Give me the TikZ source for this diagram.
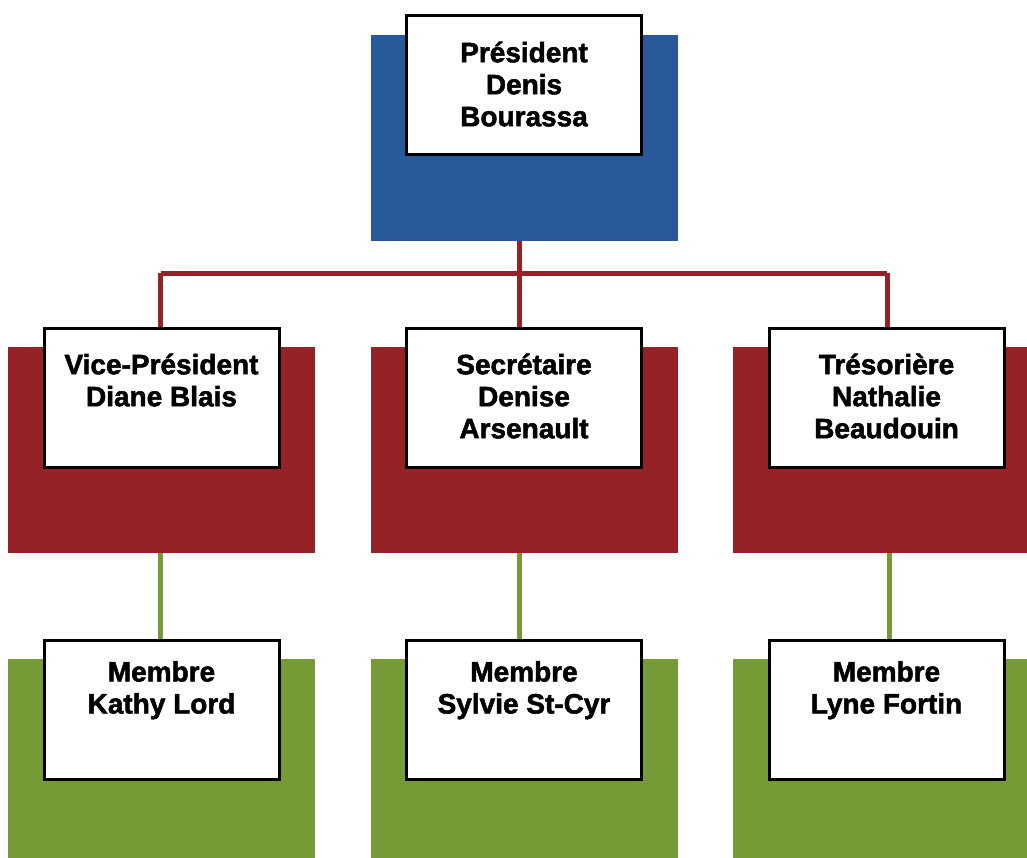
\documentclass[tikz,border=0pt]{standalone}
\usepackage{fontspec}
\newfontfamily\heavyfont{Liberation Sans}[BoldFeatures={FakeBold=1.8}]
\usepackage{tikz}
\usetikzlibrary{positioning}

\definecolor{presblue}{RGB}{41,89,155}
\definecolor{offred}{RGB}{150,33,39}
\definecolor{membgreen}{RGB}{118,154,54}

\tikzset{
	bgblock/.style={rectangle, inner sep=0pt, minimum width=307pt, minimum height=206pt},
	card/.style={rectangle, draw=black, line width=3pt, fill=white, inner sep=0pt, minimum width=235pt, minimum height=139pt},
	cardtext/.style={inner sep=0pt, align=center, font=\heavyfont\bfseries\fontsize{28}{32}\selectfont},
	redline/.style={draw=offred, line width=5pt},
	greenline/.style={draw=membgreen, line width=5pt}
}

\begin{document}
\begin{tikzpicture}[x=1pt, y=-1pt]
	\clip (0,0) rectangle (1027,858);
	\fill[white] (0,0) rectangle (1027,858);

	% Coloured blocks
	%Top
	\node[bgblock, fill=presblue] (presBg) at (524.5,138) {};
	%Officers
	\node[bgblock, fill=offred] (vpBg) at (161.5,450) {};
	\node[bgblock, fill=offred] (secBg) at (524.5,450) {};
	\node[bgblock, fill=offred] (tresBg) at (886.5,450) {};
	%Members
	\node[bgblock, fill=membgreen] (lordBg) at (161.5,762) {};
	\node[bgblock, fill=membgreen] (stcyrBg) at (524.5,762) {};
	\node[bgblock, fill=membgreen] (fortinBg) at (886.5,762) {};

	% Connectors
	\coordinate (bus) at (519,273.5);
	\coordinate (busL) at (160.5,273.5);
	\coordinate (busR) at (887,273.5);
	\draw[redline] (presBg.south -| bus) -- (bus);
	\draw[redline] (busL) -- (busR);
	\draw[greenline] (vpBg.south -| busL) -- (lordBg.north -| busL);
	\draw[greenline] (secBg.south -| bus) -- (stcyrBg.north -| bus);
	\draw[greenline] (tresBg.south -| 889,0) -- (fortinBg.north -| 889,0);

	% White cards
	\node[card] (pres) at (524,85.5) {};
	\node[card] (vp) at (161.5,397.5) {};
	\node[card] (sec) at (524,397.5) {};
	\node[card] (tres) at (886.5,397.5) {};
	\node[card] (lord) at (161.5,710) {};
	\node[card] (stcyr) at (524,710) {};
	\node[card] (fortin) at (886.5,710) {};

	\draw[redline] (bus) -- (sec.north -| bus);
	\draw[redline] (busL) -- (vp.north -| busL);
	\draw[redline] (busR) -- (tres.north -| busR);

	% Card texts
	\node[cardtext, below=27pt of pres.north] (presT) {Président\\Denis\\Bourassa};
	\node[cardtext, below=27pt of vp.north] (vpT) {Vice-Président\\Diane Blais};
	\node[cardtext, below=27pt of sec.north] (secT) {Secrétaire\\Denise\\Arsenault};
	\node[cardtext, below=27pt of tres.north] (tresT) {Trésorière\\Nathalie\\Beaudouin};
	\node[cardtext, below=22pt of lord.north] (lordT) {Membre\\Kathy Lord};
	\node[cardtext, below=22pt of stcyr.north] (stcyrT) {Membre\\Sylvie St-Cyr};
	\node[cardtext, below=22pt of fortin.north] (fortinT) {Membre\\Lyne Fortin};
\end{tikzpicture}
\end{document}
